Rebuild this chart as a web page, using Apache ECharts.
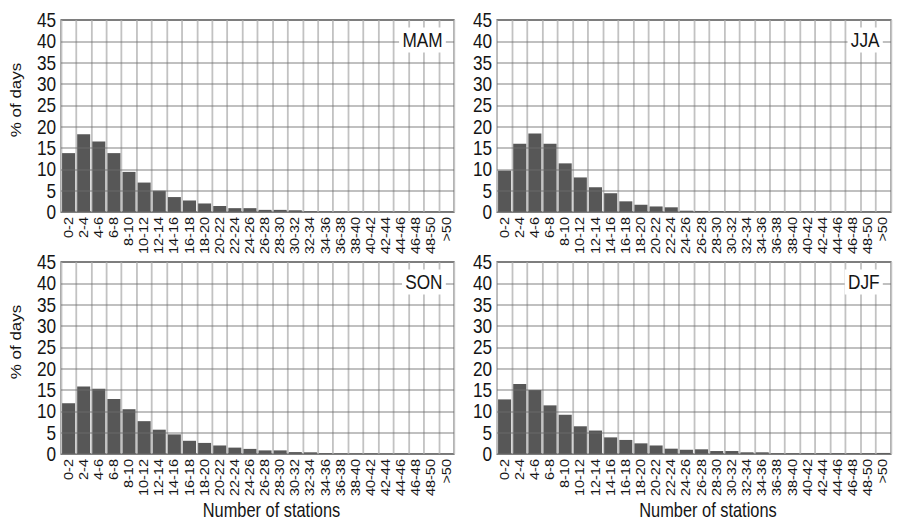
<!DOCTYPE html>
<html><head><meta charset="utf-8">
<script src="https://cdn.jsdelivr.net/npm/echarts@6/dist/echarts.min.js"></script>
<style>
html,body{margin:0;padding:0;background:#fff;overflow:hidden}
#wrap{width:898px;height:521px;overflow:hidden}
#c{width:1095px;height:521px;transform:scaleX(0.82);transform-origin:0 0}
</style>
</head><body><div id="wrap"><div id="c"></div></div>
<script>
const categories = ['0-2','2-4','4-6','6-8','8-10','10-12','12-14','14-16','16-18','18-20','20-22','22-24','24-26','26-28','28-30','30-32','32-34','34-36','36-38','38-40','40-42','42-44','44-46','46-48','48-50','>50'];
const mam = [13.8,18.2,16.5,13.8,9.4,6.9,5.0,3.5,2.7,2.0,1.4,0.9,0.9,0.5,0.5,0.4,0.15,0.1,0.05,0.05,0.05,0.05,0.05,0.05,0.05,0.05];
const jja = [9.7,16.0,18.4,16.0,11.4,8.1,5.8,4.4,2.5,1.7,1.3,1.1,0.3,0.25,0.15,0.15,0.05,0.05,0.05,0.05,0.05,0.05,0.05,0.05,0.05,0.05];
const son = [11.9,15.8,15.3,12.9,10.5,7.7,5.7,4.6,3.1,2.6,2.0,1.5,1.2,0.85,0.85,0.45,0.4,0.2,0.1,0.1,0.1,0.05,0.05,0.05,0.05,0.05];
const djf = [12.8,16.4,15.0,11.4,9.2,6.5,5.5,3.9,3.3,2.5,2.0,1.25,1.0,1.1,0.7,0.7,0.4,0.4,0.15,0.15,0.15,0.15,0.15,0.15,0.15,0.25];
const panelNames = ['MAM','JJA','SON','DJF'];
const panelData = [mam, jja, son, djf];
const yMin = 0, yMax = 45, yStep = 5;
const yAxisTitle = '% of days';
const xAxisTitle = 'Number of stations';

const W = 1095; // drawing width before horizontal squeeze
const REG = "'Liberation Sans',Arial,sans-serif";
const TXT = '#141414';

const grids = [
  {left:74.4, top:20, width:479.3, height:192},
  {left:606.1, top:20, width:480.5, height:192},
  {left:74.4, top:262, width:479.3, height:193},
  {left:606.1, top:262, width:480.5, height:193}
];

const option = {
  animation: false,
  backgroundColor: '#fff',
  grid: grids.map(g => Object.assign({show:true, borderColor:'#666', borderWidth:1.6, backgroundColor:'transparent'}, g)),
  title: grids.map((g,i) => ({
    text: panelNames[i],
    right: W - (g.left + g.width - 10),
    top: g.top + 8,
    backgroundColor: '#fff',
    padding: [2,4],
    z: 10,
    textStyle: {fontFamily: REG, fontSize: 21, fontWeight: 'normal', color: TXT, lineHeight: 20}
  })),
  xAxis: grids.map((g,i) => ({
    type: 'category', gridIndex: i, data: categories,
    axisLine: {show:false}, axisTick: {show:false},
    axisLabel: {rotate: 90, interval: 0, fontSize: 14.5, margin: 5, fontFamily: REG, color: TXT},
    splitLine: {show: true, interval: 0, lineStyle: {color: '#c2c2c2', width: 2.2}},
    name: i >= 2 ? xAxisTitle : '',
    nameLocation: 'middle', nameGap: 42,
    nameTextStyle: {fontFamily: REG, fontSize: 20, color: TXT, padding: [0,0,0,34]}
  })),
  yAxis: grids.map((g,i) => ({
    type: 'value', gridIndex: i, min: yMin, max: yMax, interval: yStep, z: 3,
    axisLine: {show:false}, axisTick: {show:false},
    axisLabel: {fontSize: 21, margin: 6, fontFamily: REG, color: TXT},
    splitLine: {show: true, lineStyle: {color: 'rgba(108,108,108,0.43)', width: 1.8}},
    name: (i % 2 === 0) ? yAxisTitle : '',
    nameLocation: 'middle', nameRotate: 90, nameGap: 46,
    nameTextStyle: {fontFamily: REG, fontSize: 17, color: TXT, padding: [0,0,0,32]}
  })),
  series: panelData.map((d,i) => ({
    type: 'bar', xAxisIndex: i, yAxisIndex: i, data: d,
    barCategoryGap: '14%', silent: true,
    itemStyle: {color: '#575757'}
  }))
};
const chart = echarts.init(document.getElementById('c'), null, {renderer: 'svg', width: W, height: 521});
chart.setOption(option);
</script></body></html>
